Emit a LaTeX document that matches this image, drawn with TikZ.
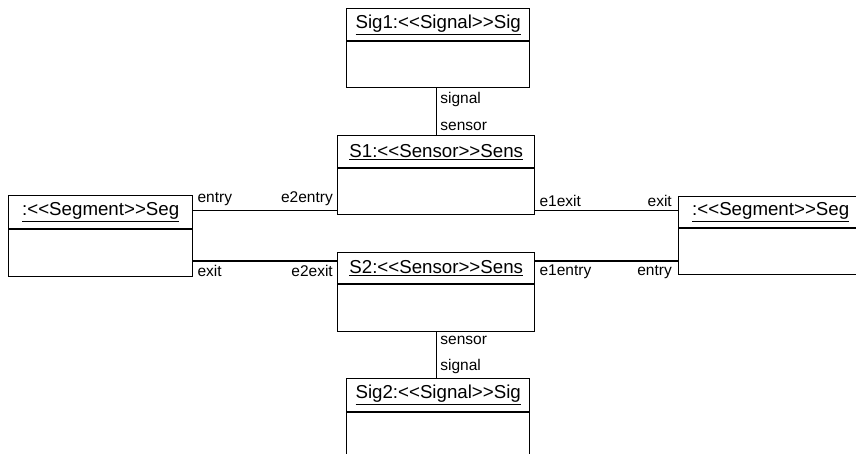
\documentclass[tikz,border=0pt]{standalone}
\usepackage{fontspec}
\setmainfont{Liberation Sans}[Ligatures=TeXOff]
\begin{document}
\begin{tikzpicture}[x=1pt,y=-1pt,
  cls/.style={draw, line width=1.4pt, fill=white, anchor=north west, inner sep=0pt},
  divline/.style={line width=1.3pt},
  conn/.style={line width=1.2pt},
  hdr/.style={font=\fontsize{18.7}{21}\selectfont, inner sep=0pt},
  lbl/.style={font=\fontsize{15.5}{17}\selectfont, inner sep=0pt}]
\useasboundingbox (0,0) rectangle (856,454);
\clip (0,0) rectangle (856,454);
% classes
\node[cls, minimum width=183pt, minimum height=79pt] (sig1) at (346,8) {};
\node[cls, minimum width=197pt, minimum height=79pt] (s1) at (337,135) {};
\node[cls, minimum width=197pt, minimum height=79pt] (s2) at (337,252) {};
\node[cls, minimum width=183pt, minimum height=79pt] (sig2) at (346,378) {};
\node[cls, minimum width=184pt, minimum height=81pt] (segL) at (8,195) {};
\node[cls, minimum width=184pt, minimum height=78pt] (segR) at (678,196) {};
% dividers
\draw[divline] ([yshift=-33pt]sig1.north west) -- ([yshift=-33pt]sig1.north east);
\draw[divline] ([yshift=-33pt]s1.north west) -- ([yshift=-33pt]s1.north east);
\draw[divline] ([yshift=-32pt]s2.north west) -- ([yshift=-32pt]s2.north east);
\draw[divline] ([yshift=-34pt]sig2.north west) -- ([yshift=-34pt]sig2.north east);
\draw[divline] ([yshift=-34pt]segL.north west) -- ([yshift=-34pt]segL.north east);
\draw[divline] ([yshift=-32pt]segR.north west) -- ([yshift=-32pt]segR.north east);
% headers
\node[hdr] (t1) at ([yshift=-17pt]sig1.north) {\underline{Sig1:<<Signal>>Sig}};
\node[hdr] (t2) at ([yshift=-17pt]s1.north) {\underline{S1:<<Sensor>>Sens}};
\node[hdr] (t3) at ([yshift=-16pt]s2.north) {\underline{S2:<<Sensor>>Sens}};
\node[hdr] (t4) at ([yshift=-17pt]sig2.north) {\underline{Sig2:<<Signal>>Sig}};
\node[hdr] (t5) at ([yshift=-17pt]segL.north) {\underline{:<<Segment>>Seg}};
\node[hdr] (t6) at ([yshift=-16pt]segR.north) {\underline{:<<Segment>>Seg}};
% vertical connectors
\draw[conn] (sig1.south -| s1.north) -- (s1.north);
\draw[conn] (s2.south) -- (s2.south |- sig2.north);
% horizontal connectors
\coordinate (aL) at ([yshift=5pt]s1.south west);
\coordinate (aR) at ([yshift=5pt]s1.south east);
\coordinate (bL) at ([yshift=-9pt]s2.north west);
\coordinate (bR) at ([yshift=-9pt]s2.north east);
\draw[conn] (aL -| segL.east) -- (aL);
\draw[conn] (bL -| segL.east) -- (bL);
\draw[conn] (aR) -- (aR -| segR.west);
\draw[conn] (bR) -- (bR -| segR.west);
% labels
\node[lbl, anchor=north west] (l1) at ([xshift=4pt,yshift=-4pt]sig1.south -| s1.north) {signal};
\node[lbl, anchor=south west] (l2) at ([xshift=4pt,yshift=4pt]s1.north) {sensor};
\node[lbl, anchor=north west] (l3) at ([xshift=4pt,yshift=-4pt]s2.south) {sensor};
\node[lbl, anchor=south west] (l4) at ([xshift=4pt,yshift=4pt]s2.south |- sig2.north) {signal};
\node[lbl, anchor=south west] (l5) at ([xshift=4pt,yshift=4pt]aL -| segL.east) {entry};
\node[lbl, anchor=south east] (l6) at ([xshift=-4pt,yshift=4pt]aL) {e2entry};
\node[lbl, anchor=north west] (l7) at ([xshift=4pt,yshift=-4pt]bL -| segL.east) {exit};
\node[lbl, anchor=north east] (l8) at ([xshift=-4pt,yshift=-4pt]bL) {e2exit};
\node[lbl, anchor=south west] (l9) at ([xshift=4pt,yshift=4pt]aR) {e1exit};
\node[lbl, anchor=south east] (l10) at ([xshift=-6pt,yshift=4pt]aR -| segR.west) {exit};
\node[lbl, anchor=north west] (l11) at ([xshift=4pt,yshift=-4pt]bR) {e1entry};
\node[lbl, anchor=north east] (l12) at ([xshift=-6pt,yshift=-4pt]bR -| segR.west) {entry};
\end{tikzpicture}
\end{document}
